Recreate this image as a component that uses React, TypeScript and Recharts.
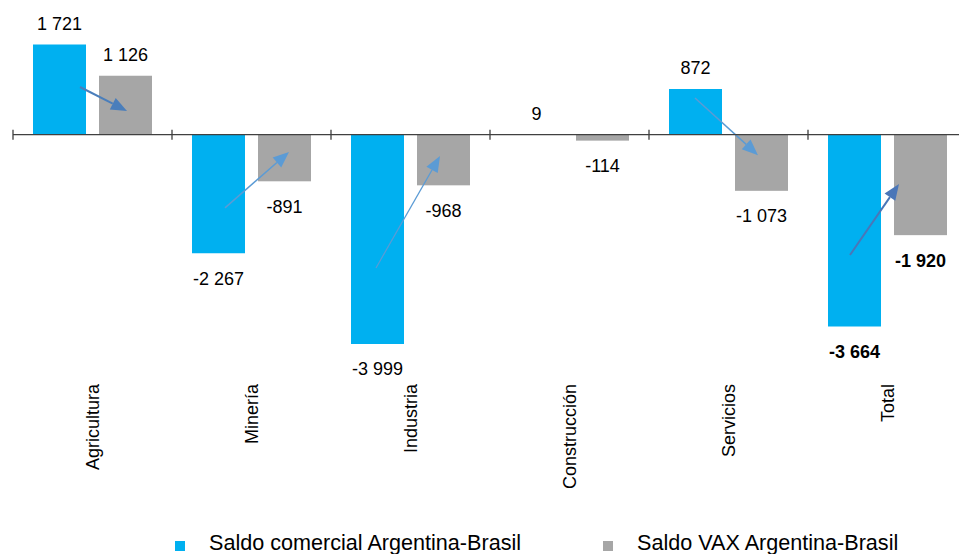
import React from "react";
import { Bar, BarChart, LabelList, ReferenceLine, XAxis, YAxis } from "recharts";

const categories = ["Agricultura", "Minería", "Industria", "Construcción", "Servicios", "Total"];
const saldoComercial = [1721, -2267, -3999, 9, 872, -3664];
const saldoVax = [1126, -891, -968, -114, -1073, -1920];
const seriesNames = ["Saldo comercial Argentina-Brasil", "Saldo VAX Argentina-Brasil"];
// flechas: valor de inicio (barra celeste) y de llegada (barra gris)
const arrowFrom = [911, -1398, -2547, null, 701, -2299];
const arrowTo = [453, -331, -407, null, -392, -942];

const BLUE = "#00B0F0";
const GRAY = "#A6A6A6";
const FONT = "'Liberation Sans', Arial, sans-serif";

// estilo de cada flecha (desplazamiento horizontal respecto del borde izquierdo de la barra gris)
const arrowStyle = [
  { dx1: -19, dx2: 28, color: "#4A7EBB", w: 2 },
  { dx1: -33, dx2: 31, color: "#5B9BD5", w: 1.5 },
  { dx1: -41, dx2: 23, color: "#5B9BD5", w: 1.2 },
  null,
  { dx1: -40, dx2: 23, color: "#5B9BD5", w: 1.5 },
  { dx1: -44, dx2: 5, color: "#4A76B8", w: 2 },
];

const data = categories.map((name, i) => ({
  name,
  comercial: saldoComercial[i],
  vax: saldoVax[i],
  from: arrowFrom[i],
  to: arrowTo[i],
}));

const fmt = (v: number) => {
  const s = String(Math.abs(v)).replace(/\B(?=(\d{3})+(?!\d))/g, " ");
  return v < 0 ? `-${s}` : s;
};

function Arrow({ x1, y1, x2, y2, color, w }: any) {
  const len = Math.hypot(x2 - x1, y2 - y1);
  const ux = (x2 - x1) / len;
  const uy = (y2 - y1) / len;
  const hl = 16;
  const hw = 6.5;
  const bx = x2 - ux * hl;
  const by = y2 - uy * hl;
  const pts = `${x2},${y2} ${bx - uy * hw},${by + ux * hw} ${bx + uy * hw},${by - ux * hw}`;
  return (
    <g>
      <line x1={x1} y1={y1} x2={bx} y2={by} stroke={color} strokeWidth={w} />
      <polygon points={pts} fill={color} />
    </g>
  );
}

function VaxShape(props: any) {
  const { x, y, width, height, value, payload, index } = props;
  const top = Math.min(y, y + height);
  const h = Math.abs(height);
  const style = arrowStyle[index];
  let arrow = null;
  if (style && payload.from != null && value) {
    const k = height / value;
    const zero = y + height;
    arrow = (
      <Arrow
        x1={x + style.dx1}
        y1={zero - k * payload.from}
        x2={x + style.dx2}
        y2={zero - k * payload.to}
        color={style.color}
        w={style.w}
      />
    );
  }
  return (
    <g>
      <rect x={x} y={top} width={width} height={h} fill={GRAY} />
      {arrow}
    </g>
  );
}

function ValueLabel(props: any) {
  const vb = props.viewBox ?? props;
  const { x, y, width, height } = vb;
  const value = Number(props.value);
  const top = Math.min(y, y + height);
  const bottom = Math.max(y, y + height);
  const bold = props.index === categories.length - 1;
  const ty = value >= 0 ? top - 14.6 : bottom + 31.4;
  return (
    <text
      x={x + width / 2}
      y={ty}
      textAnchor="middle"
      fontFamily={FONT}
      fontSize={18}
      fontWeight={bold ? "bold" : "normal"}
      fill="#000"
    >
      {fmt(value)}
    </text>
  );
}

function CategoryTick(props: any) {
  const { x, y, payload } = props;
  return (
    <text
      x={x}
      y={y}
      transform={`rotate(-90 ${x} ${y})`}
      textAnchor="end"
      dy="0.38em"
      dx={-2}
      fontFamily={FONT}
      fontSize={18}
      fill="#000"
    >
      {payload.value}
    </text>
  );
}

function ZeroAxis(props: any) {
  const { x1, y1, x2 } = props;
  const step = (x2 - x1) / categories.length;
  return (
    <g>
      <line x1={x1} y1={y1} x2={x2} y2={y1} stroke="#404040" strokeWidth={1.3} />
      {categories.map((c, i) => (
        <line
          key={c}
          x1={x1 + i * step}
          x2={x1 + i * step}
          y1={y1 - 5}
          y2={y1 + 5}
          stroke="#404040"
          strokeWidth={1.3}
        />
      ))}
    </g>
  );
}

const legendItems = [
  { name: seriesNames[0], color: BLUE, left: 175 },
  { name: seriesNames[1], color: GRAY, left: 603 },
];

export default function App() {
  return (
    <div
      style={{
        position: "absolute",
        left: 0,
        top: 0,
        width: 959,
        height: 554,
        overflow: "hidden",
        background: "#fff",
      }}
    >
      <BarChart
        width={975}
        height={554}
        data={data}
        margin={{ top: 30, right: 8, bottom: 0, left: 13 }}
        barCategoryGap={20}
        barGap={13}
      >
        <XAxis
          dataKey="name"
          interval={0}
          axisLine={false}
          tickLine={false}
          tickSize={0}
          tickMargin={38}
          height={210}
          tick={<CategoryTick />}
        />
        <YAxis hide domain={[-4000, 2000]} />
        <Bar dataKey="comercial" name={seriesNames[0]} fill={BLUE} isAnimationActive={false}>
          <LabelList dataKey="comercial" content={<ValueLabel />} />
        </Bar>
        <Bar
          dataKey="vax"
          name={seriesNames[1]}
          fill={GRAY}
          shape={<VaxShape />}
          isAnimationActive={false}
        >
          <LabelList dataKey="vax" content={<ValueLabel />} />
        </Bar>
        <ReferenceLine y={0} shape={<ZeroAxis />} />
      </BarChart>
      {legendItems.map((item) => (
        <div
          key={item.name}
          style={{
            position: "absolute",
            left: item.left,
            top: 532,
            display: "flex",
            alignItems: "center",
            fontFamily: FONT,
            fontSize: 21.6,
            lineHeight: "21px",
            color: "#000",
            whiteSpace: "nowrap",
          }}
        >
          <span
            style={{
              display: "inline-block",
              width: 10,
              height: 10,
              background: item.color,
              marginRight: 24,
              marginTop: 6,
            }}
          />
          <span>{item.name}</span>
        </div>
      ))}
    </div>
  );
}
